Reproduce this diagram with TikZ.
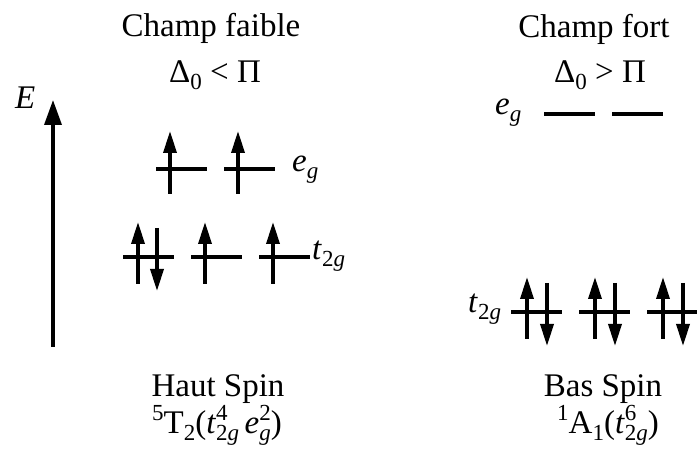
\documentclass[tikz,border=0pt]{standalone}
\usepackage{fontspec}
\setmainfont{Liberation Serif}
\usetikzlibrary{arrows.meta}
\newcommand\Sb[1]{\raisebox{-0.21em}{\fontsize{23}{23}\selectfont #1}}
\newcommand\Sp[1]{\raisebox{0.42em}{\fontsize{23}{23}\selectfont #1}}
\tikzset{
  lvl/.style={line width=4pt},
  el/.style={line width=3.5pt,-{Triangle[width=13pt,length=22pt]}},
  axis/.style={line width=3.5pt,-{Triangle[width=17pt,length=25pt]}},
  txt/.style={inner sep=0pt,anchor=base,font=\fontsize{33}{40}\selectfont},
  lab/.style={inner sep=0pt,anchor=base west,font=\fontsize{33}{40}\selectfont},
}
\begin{document}
\begin{tikzpicture}[x=1pt,y=-1pt]
\useasboundingbox (0,0) rectangle (697,457);
% axis
\coordinate (e0) at (53,347);
\coordinate (e1) at (53,100);
\draw[axis] (e0) -- (e1);
\node[lab] (E) at (15,109) {\textit{E}};
% titles
\node[txt] (t1) at (211,37) {Champ faible};
\node[txt] (t2) at (215,83) {Δ\Sb{0} < Π};
\node[txt] (t3) at (594,38) {Champ fort};
\node[txt] (t4) at (600,83) {Δ\Sb{0} > Π};
\node[txt] (b1) at (218,396) {Haut Spin};
\node[txt] (b2) at (217,434) {\Sp{5}T\Sb{2}(\textit{t}\rlap{\Sp{4}}\Sb{2\textit{g}}\,\textit{e}\rlap{\Sp{2}}\Sb{\textit{g}})};
\node[txt] (b3) at (603,396) {Bas Spin};
\node[txt] (b4) at (608,434) {\Sp{1}A\Sb{1}(\textit{t}\rlap{\Sp{6}}\Sb{2\textit{g}})};
% level labels
\node[lab] (leg) at (292,172) {\textit{e}\Sb{\textit{g}}};
\node[lab] (ltg) at (312,260) {\textit{t}\Sb{2\textit{g}}};
\node[lab] (reg) at (495,115) {\textit{e}\Sb{\textit{g}}};
\node[lab] (rtg) at (468,313) {\textit{t}\Sb{2\textit{g}}};
% left e_g: single up electrons
\foreach \x in {156,224} {
  \draw[lvl] (\x,169) -- ++(51,0);
  \draw[el] (\x+14,169+25) -- (\x+14,169-38);
}
% left t2g
\foreach \x in {123,191,259} {
  \draw[lvl] (\x,257) -- ++(51,0);
}
\draw[el] (138,257+27) -- (138,257-35);
\draw[el] (157,257-29) -- (157,257+34);
\draw[el] (205,257+27) -- (205,257-35);
\draw[el] (273,257+27) -- (273,257-35);
% right e_g: empty
\foreach \x in {544,612} {
  \draw[lvl] (\x,114) -- ++(51,0);
}
% right t2g: paired
\foreach \x in {511,579,647} {
  \draw[lvl] (\x,312) -- ++(51,0);
  \draw[el] (\x+16,312+27) -- (\x+16,312-35);
  \draw[el] (\x+36,312-29) -- (\x+36,312+34);
}
\end{tikzpicture}
\end{document}
